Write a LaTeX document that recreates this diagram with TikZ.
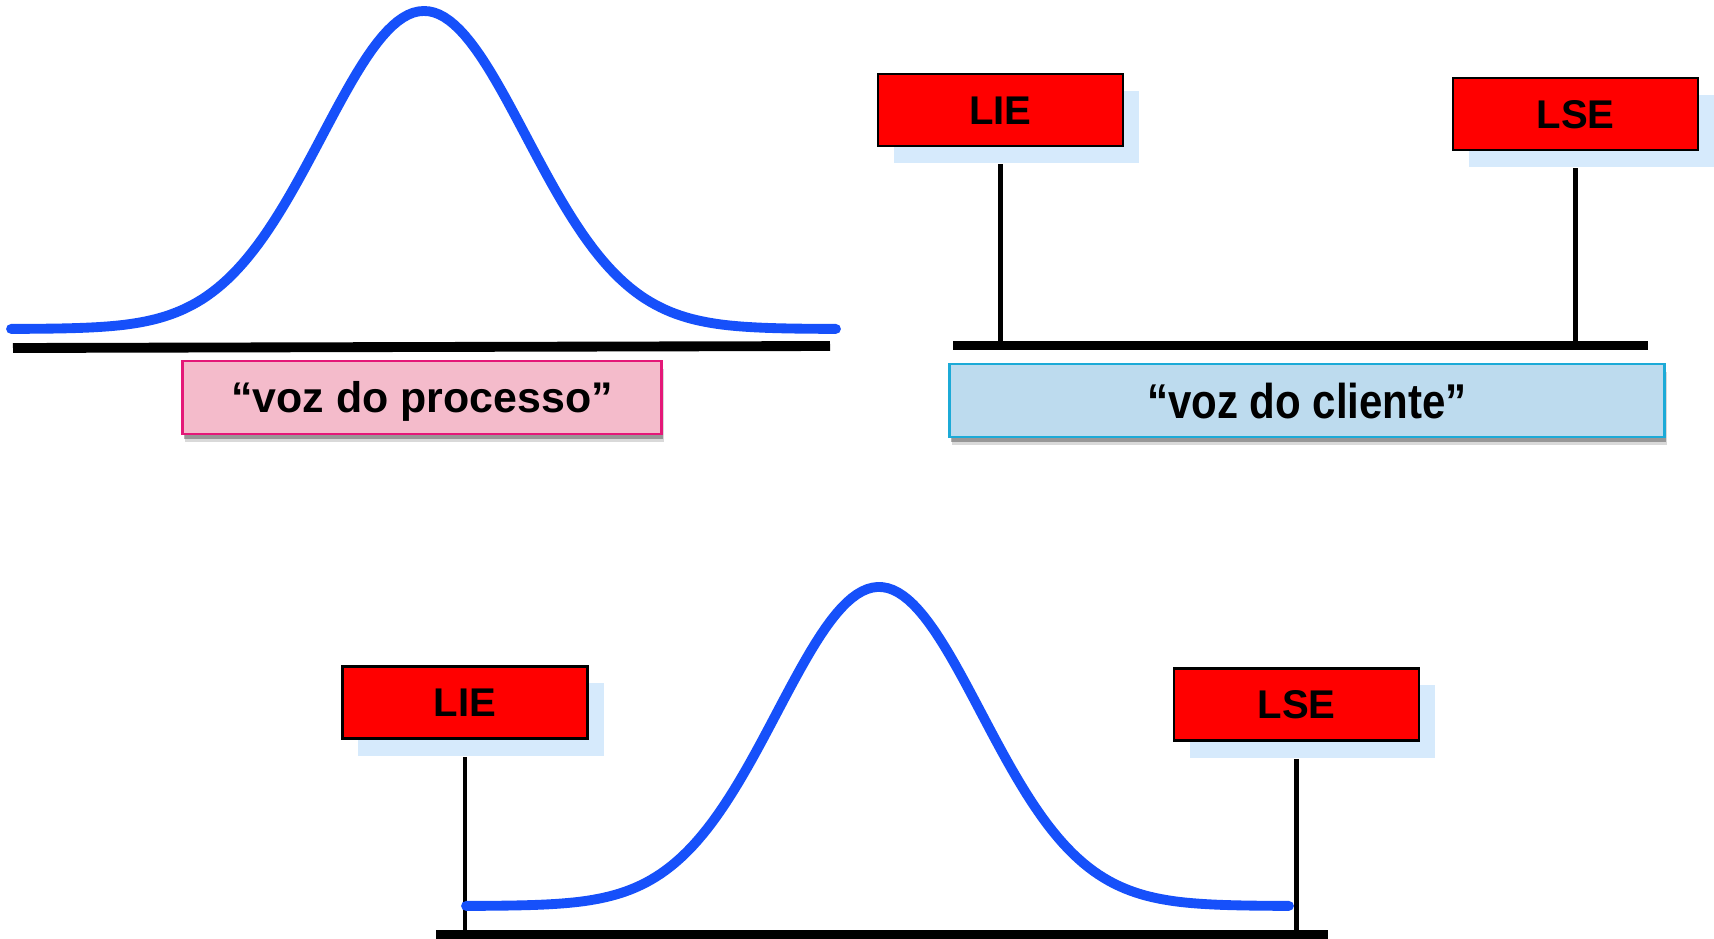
\documentclass[tikz,border=0pt]{standalone}
\usepackage{fontspec}
\setmainfont{Liberation Sans}
\usepackage{graphicx}
\usetikzlibrary{shadows}

\definecolor{limitred}{RGB}{255,0,0}
\definecolor{shadowblue}{RGB}{214,234,252}
\definecolor{curveblue}{RGB}{22,80,250}
\definecolor{pinkfill}{RGB}{244,187,203}
\definecolor{pinkline}{RGB}{228,24,120}
\definecolor{bluefill}{RGB}{189,219,238}
\definecolor{blueline}{RGB}{28,170,215}

\begin{document}
\begin{tikzpicture}[x=0.01cm,y=-0.01cm,
  limitbox/.style={draw=black, line width=0.7pt, fill=limitred,
    minimum width=2.45cm, minimum height=0.72cm, inner sep=0pt,
    font=\fontsize{11.4}{13}\selectfont\bfseries,
    text height=0.32cm, text depth=0.04cm,
    drop shadow={shadow xshift=0.16cm, shadow yshift=-0.17cm,
      fill=shadowblue, opacity=1}},
  voicebox/.style={line width=0.8pt, inner sep=0pt, minimum height=0.73cm,
    drop shadow={shadow xshift=0.025cm, shadow yshift=-0.08cm,
      fill=black, opacity=0.15},
    drop shadow={shadow xshift=0.015cm, shadow yshift=-0.045cm,
      fill=black, opacity=0.3}},
  axisline/.style={line width=2.8pt},
  ticklinestyle/.style={line width=1.4pt},
  bell/.style={draw=curveblue, line width=2.8pt, line cap=round, line join=round}]

\useasboundingbox (0,0) rectangle (1714,939);

% ---- voice of the process ----
\draw[bell] plot[domain=-413:412, samples=161]
  ({424+\x},{329-318*exp(-0.5*(\x/102)^2)});
\coordinate (a1l) at (13,348);
\coordinate (a1r) at (830,346);
\draw[axisline] (a1l) -- (a1r);
\node[voicebox, draw=pinkline, fill=pinkfill, minimum width=4.78cm,
  font=\fontsize{12.2}{14}\selectfont\bfseries,
  text height=0.4cm, text depth=0.1cm] (vproc) at (422,397.5)
  {“voz do processo”};

% ---- voice of the customer ----
\node[limitbox] (lie1) at (1000.5,110) {LIE};
\node[limitbox] (lse1) at (1575.5,114) {LSE};
\coordinate (a2l) at (953,345.5);
\coordinate (a2r) at (1648,345.5);
\draw[axisline] (a2l) -- (a2r);
\draw[ticklinestyle] ([yshift=-0.17cm]lie1.south) -- (lie1.south |- a2l);
\draw[ticklinestyle] ([yshift=-0.17cm]lse1.south) -- (lse1.south |- a2l);
\node[voicebox, draw=blueline, fill=bluefill, minimum width=7.14cm,
  font=\fontsize{13.9}{16}\selectfont\bfseries,
  text height=0.45cm, text depth=0.1cm] (vcli) at (1307,400.5)
  {\scalebox{0.86}[1]{“voz do cliente”}};

% ---- process against specification limits ----
\node[limitbox] (lie2) at (465,702.5) {LIE};
\node[limitbox] (lse2) at (1296.5,704.5) {LSE};
\coordinate (a3l) at (436,935);
\coordinate (a3r) at (1328,935);
\draw[axisline] (a3l) -- (a3r);
\draw[ticklinestyle] ([yshift=-0.17cm]lie2.south) -- (lie2.south |- a3l);
\draw[ticklinestyle] ([yshift=-0.17cm]lse2.south) -- (lse2.south |- a3l);
\draw[bell] plot[domain=-413:410, samples=161]
  ({879+\x},{906-319*exp(-0.5*(\x/102)^2)});

\end{tikzpicture}
\end{document}
